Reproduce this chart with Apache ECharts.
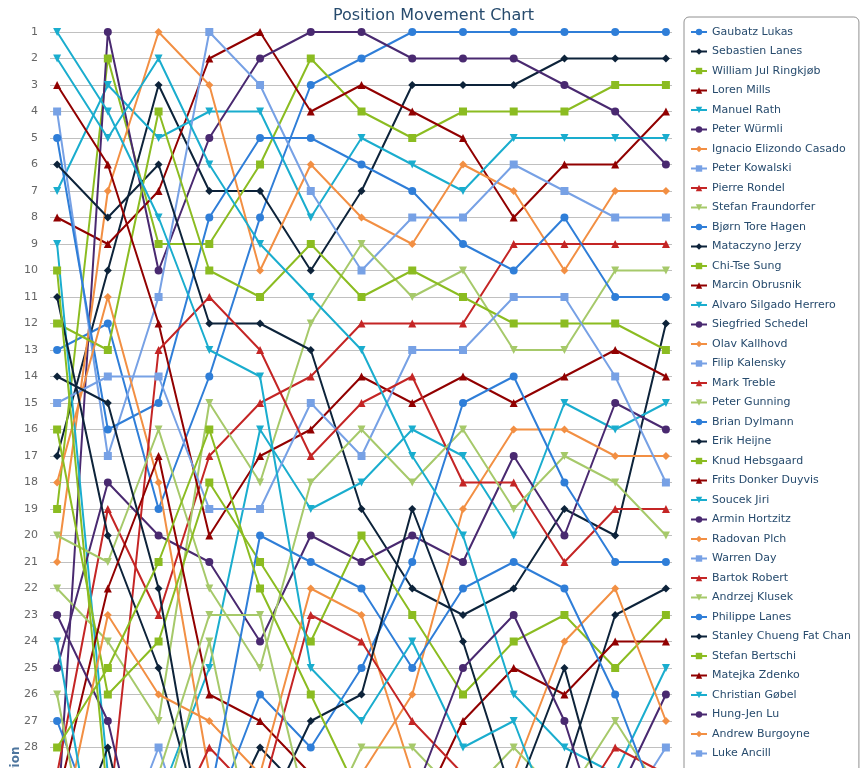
<!DOCTYPE html>
<html>
<head>
<meta charset="utf-8">
<title>Position Movement Chart</title>
<script src="https://cdn.jsdelivr.net/npm/echarts@6/dist/echarts.min.js"></script>
<style>
  html, body { margin: 0; padding: 0; background: #fff; overflow: hidden; }
  /* the chart is taller than the window, like the cut-off reference */
  #chart { width: 867px; height: 1580px; }
</style>
</head>
<body>
<div id="chart"></div>
<script>
// rounds on the x axis (the axis itself is below the visible area)
const rounds = ['1', '2', '3', '4', '5', '6', '7', '8', '9', '10', '11', '12', '13'];

// players, in legend order (= final position)
const players = [
  'Gaubatz Lukas', 'Sebastien Lanes', 'William Jul Ringkjøb', 'Loren Mills', 'Manuel Rath',
  'Peter Würmli', 'Ignacio Elizondo Casado', 'Peter Kowalski', 'Pierre Rondel', 'Stefan Fraundorfer',
  'Bjørn Tore Hagen', 'Mataczyno Jerzy', 'Chi-Tse Sung', 'Marcin Obrusnik', 'Alvaro Silgado Herrero',
  'Siegfried Schedel', 'Olav Kallhovd', 'Filip Kalensky', 'Mark Treble', 'Peter Gunning',
  'Brian Dylmann', 'Erik Heijne', 'Knud Hebsgaard', 'Frits Donker Duyvis', 'Soucek Jiri',
  'Armin Hortzitz', 'Radovan Plch', 'Warren Day', 'Bartok Robert', 'Andrzej Klusek',
  'Philippe Lanes', 'Stanley Chueng Fat Chan', 'Stefan Bertschi', 'Matejka Zdenko', 'Christian Gøbel',
  'Hung-Jen Lu', 'Andrew Burgoyne', 'Luke Ancill',
  // legend is cut off below here in the reference
  'Player 39', 'Player 40', 'Player 41', 'Player 42', 'Player 43', 'Player 44', 'Player 45'
];

// position of each player per round (same order as players)
const positions = [
  [13, 12, 19, 14, 8, 3, 2, 1, 1, 1, 1, 1, 1],
  [17, 10, 3, 7, 7, 10, 7, 3, 3, 3, 2, 2, 2],
  [19, 2, 9, 9, 6, 2, 4, 5, 4, 4, 4, 3, 3],
  [8, 9, 7, 2, 1, 4, 3, 4, 5, 8, 6, 6, 4],
  [7, 3, 5, 4, 4, 8, 5, 6, 7, 5, 5, 5, 5],
  [31, 1, 10, 5, 2, 1, 1, 2, 2, 2, 3, 4, 6],
  [21, 7, 1, 3, 10, 6, 8, 9, 6, 7, 10, 7, 7],
  [4, 17, 11, 1, 3, 7, 10, 8, 8, 6, 7, 8, 8],
  [29, 19, 23, 17, 15, 14, 12, 12, 12, 9, 9, 9, 9],
  [22, 24, 27, 15, 18, 12, 9, 11, 10, 13, 13, 10, 10],
  [5, 16, 15, 8, 5, 5, 6, 7, 9, 10, 8, 11, 11],
  [6, 8, 6, 12, 12, 13, 19, 22, 23, 22, 19, 20, 12],
  [12, 13, 4, 10, 11, 9, 11, 10, 11, 12, 12, 12, 13],
  [3, 6, 12, 20, 17, 16, 14, 15, 14, 15, 14, 13, 14],
  [9, 29, 30, 25, 16, 19, 18, 16, 17, 20, 15, 16, 15],
  [25, 18, 20, 21, 24, 20, 21, 20, 21, 17, 20, 15, 16],
  [18, 11, 18, 29, 32, 33, 29, 26, 19, 16, 16, 17, 17],
  [15, 14, 14, 19, 19, 15, 17, 13, 13, 11, 11, 14, 18],
  [35, 31, 13, 11, 13, 17, 15, 14, 18, 18, 21, 19, 19],
  [20, 21, 16, 22, 25, 18, 16, 18, 16, 19, 17, 18, 20],
  [27, 32, 33, 31, 26, 28, 25, 21, 15, 14, 18, 21, 21],
  [11, 20, 25, 32, 28, 30, 32, 32, 32, 32, 29, 23, 22],
  [16, 26, 24, 18, 21, 24, 20, 23, 26, 24, 23, 25, 23],
  [30, 22, 17, 26, 27, 29, 31, 31, 27, 25, 26, 24, 24],
  [2, 5, 2, 6, 9, 11, 13, 17, 20, 26, 28, 29, 25],
  [23, 27, 35, 35, 34, 34, 34, 35, 34, 34, 33, 30, 26],
  [32, 23, 26, 27, 29, 22, 23, 29, 31, 29, 24, 22, 27],
  [36, 33, 28, 34, 35, 35, 35, 36, 35, 35, 34, 31, 28],
  [37, 37, 32, 28, 30, 23, 24, 27, 29, 31, 31, 28, 29],
  [26, 36, 31, 24, 33, 32, 28, 28, 30, 28, 30, 27, 30],
  [34, 34, 34, 30, 20, 21, 22, 25, 22, 21, 22, 26, 31],
  [14, 15, 22, 33, 31, 27, 26, 19, 24, 30, 25, 32, 32],
  [28, 25, 21, 16, 22, 26, 30, 33, 33, 33, 35, 34, 33],
  [38, 38, 39, 39, 39, 39, 39, 40, 40, 40, 40, 36, 34],
  [1, 4, 8, 13, 14, 25, 27, 24, 28, 27, 32, 35, 35],
  [39, 39, 40, 40, 40, 40, 40, 30, 25, 23, 27, 33, 36],
  [40, 40, 41, 41, 41, 41, 41, 41, 41, 41, 41, 37, 37],
  [41, 41, 42, 42, 42, 42, 42, 42, 42, 42, 42, 38, 38],
  [42, 42, 43, 43, 43, 43, 43, 43, 43, 43, 43, 39, 39],
  [43, 43, 29, 23, 23, 31, 33, 34, 36, 36, 36, 40, 40],
  [44, 44, 44, 44, 44, 44, 44, 44, 44, 44, 44, 41, 41],
  [33, 28, 36, 36, 36, 36, 36, 37, 37, 37, 37, 42, 42],
  [10, 30, 37, 37, 37, 37, 37, 38, 38, 38, 38, 43, 43],
  [45, 45, 45, 45, 45, 45, 45, 45, 45, 45, 45, 44, 44],
  [24, 35, 38, 38, 38, 38, 38, 39, 39, 39, 39, 45, 45]
];

const totalPositions = 57;

// palette + marker cycle
const colors = ['#2f7ed8', '#0d233a', '#8bbc21', '#910000', '#1aadce',
                '#492970', '#f28f43', '#77a1e5', '#c42525', '#a6c96a'];
const symbols = ['circle', 'diamond', 'rect', 'triangle', 'triangle'];

const font = '"DejaVu Sans", Verdana, Arial, sans-serif';
const rank = 26.5; // px per position

const series = players.map((name, i) => ({
  name: name,
  type: 'line',
  data: positions[i].map((p, j) => [j, p]),
  symbol: symbols[i % 5],
  symbolSize: 8,
  symbolRotate: i % 5 === 4 ? 180 : 0,
  color: colors[i % 10],
  lineStyle: { width: 2 },
  emphasis: { disabled: true }
}));

const chart = echarts.init(document.getElementById('chart'));
chart.setOption({
  animation: false,
  textStyle: { fontFamily: font },
  title: {
    text: 'Position Movement Chart',
    left: 'center',
    top: 3,
    textStyle: { color: '#274b6d', fontSize: 16, fontWeight: 'normal', fontFamily: font }
  },
  legend: {
    orient: 'vertical',
    left: 684,
    top: 17,
    padding: [8, 8, 8, 6],
    itemWidth: 16,
    itemHeight: 8,
    itemGap: 5.5,
    borderColor: '#909090',
    borderWidth: 1,
    borderRadius: 5,
    data: players,
    textStyle: { color: '#274b6d', fontSize: 11, fontFamily: font, lineHeight: 14 }
  },
  grid: {
    left: 50,
    top: 32,
    width: 622,
    height: (totalPositions - 1) * rank,
    containLabel: false,
    outerBoundsMode: 'none'
  },
  xAxis: {
    type: 'value',
    min: -0.14,
    max: rounds.length - 1 + 0.12,
    axisLine: { show: false },
    axisTick: { show: false },
    splitLine: { show: false },
    axisLabel: { show: false }
  },
  yAxis: {
    type: 'value',
    inverse: true,
    min: 1,
    max: totalPositions,
    interval: 1,
    name: 'Position',
    nameLocation: 'middle',
    nameGap: 28,
    nameMoveOverlap: false,
    nameTextStyle: { color: '#4d759e', fontWeight: 'bold', fontSize: 12, fontFamily: font },
    axisLine: { show: false },
    axisTick: { show: false },
    axisLabel: { color: '#666', fontSize: 11, margin: 12, fontFamily: font },
    splitLine: { lineStyle: { color: '#C0C0C0', width: 1 } }
  },
  series: series
});
</script>
</body>
</html>
